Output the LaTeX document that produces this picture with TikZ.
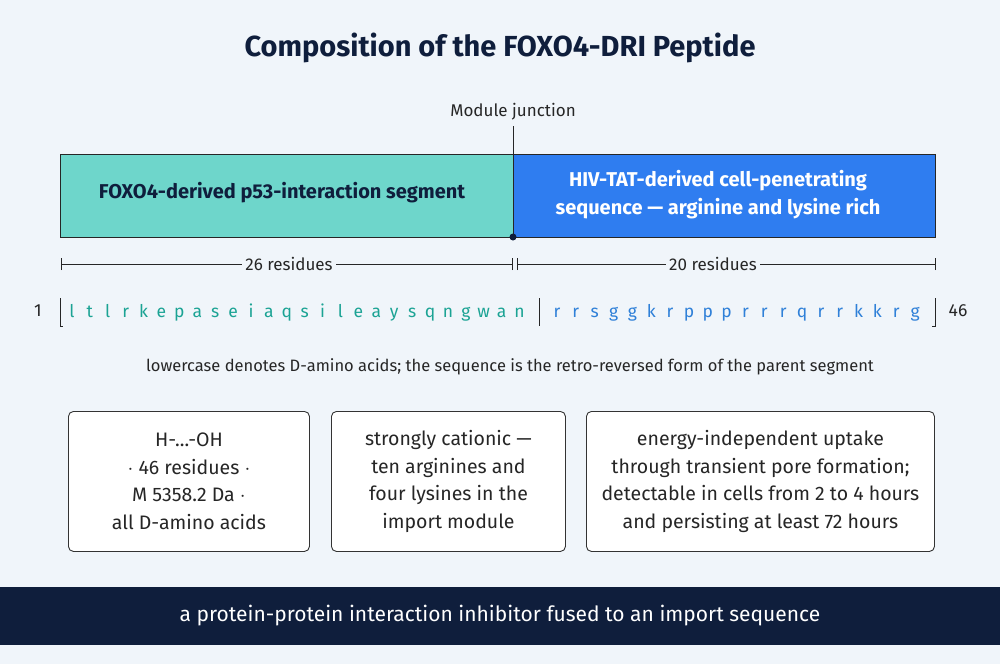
\documentclass[tikz,border=0pt]{standalone}
\usepackage{fontspec}
\setmainfont{Fira Sans}
\begin{document}
\begin{tikzpicture}[x=1pt,y=-1pt,
  txt/.style={font=\fontsize{17}{20}\selectfont, text=black!85},
  box/.style={draw=black!80, line width=0.9pt, rounded corners=5pt, fill=white},
  boxtxt/.style={font=\fontsize{19.5}{27.5}\selectfont, align=center, text=black!85},
  dim/.style={line width=0.7pt, draw=black!85},
  resA/.style={font=\fontsize{17.5}{20}\selectfont, text=tealR},
  resB/.style={font=\fontsize{17.5}{20}\selectfont, text=blueR}]
\definecolor{bg}{HTML}{F0F5FA}
\definecolor{tealF}{HTML}{6ED6CB}
\definecolor{blueF}{HTML}{2F7DF0}
\definecolor{tealR}{HTML}{1BA394}
\definecolor{blueR}{HTML}{2F80D8}
\definecolor{navy}{HTML}{0F1E3C}
\fill[bg] (0,0) rectangle (1000,664);
\useasboundingbox (0,0) rectangle (1000,664);
\node[font=\fontsize{29}{34}\selectfont\bfseries, text=navy] (title) at (500,48) {Composition of the FOXO4-DRI Peptide};
% bar
\node[draw=black!85, line width=0.9pt, fill=tealF, minimum width=453pt, minimum height=83pt, inner sep=0pt, anchor=north west] (segA) at (60,154) {};
\node[draw=black!85, line width=0.9pt, fill=blueF, minimum width=422pt, minimum height=83pt, inner sep=0pt, anchor=north west] (segB) at (513,154) {};
\node[font=\fontsize{20}{24}\selectfont\bfseries, text=navy] (la) at (282,193) {FOXO4-derived p53-interaction segment};
\node[font=\fontsize{20}{28}\selectfont\bfseries, text=white, align=center] (lb) at (718,195) {HIV-TAT-derived cell-penetrating\\sequence --- arginine and lysine rich};
\node[txt] (junc) at (513,112) {Module junction};
\coordinate (jt) at (513,126);
\coordinate (jb) at (513,237);
\draw[line width=0.9pt, black!85] (jt) -- (jb);
\fill[navy] (jb) circle (3.5pt);
% dimension lines
\node[txt] (d1) at (289,264) {26 residues};
\node[txt] (d2) at (713,264) {20 residues};
\coordinate (a1) at (61,264); \coordinate (a2) at (512,264);
\coordinate (b1) at (517,264); \coordinate (b2) at (935,264);
\draw[dim] (a1) -- (d1.west); \draw[dim] (d1.east) -- (a2);
\draw[dim] (b1) -- (d2.west); \draw[dim] (d2.east) -- (b2);
\foreach \p in {a1,a2,b1,b2} \draw[dim] ([yshift=-6pt]\p) -- ([yshift=6pt]\p);
% sequence
\node[font=\fontsize{17.5}{20}\selectfont, text=black!85] (one) at (38,311) {1};
\node[font=\fontsize{17.5}{20}\selectfont, text=black!85] (ftsix) at (958,311) {46};
\coordinate (t1) at (60,298); \coordinate (t1b) at (60,326);
\coordinate (t2) at (539,298); \coordinate (t2b) at (539,326);
\coordinate (t3) at (935,298); \coordinate (t3b) at (935,326);
\draw[line width=0.9pt, black!85] (t1) -- (t1b) -- ++(3,0);
\draw[line width=0.9pt, black!85] (t2) -- (t2b);
\draw[line width=0.9pt, black!85] (t3) -- (t3b) -- ++(-3,0);
\foreach \c [count=\i] in {l,t,l,r,k,e,p,a,s,e,i,a,q,s,i,l,e,a,y,s,q,n,g,w,a,n}
  \node[resA, anchor=base] (ra\i) at ({72+(\i-1)*17.9},317) {\c};
\foreach \c [count=\i] in {r,r,s,g,g,k,r,p,p,p,r,r,r,q,r,r,k,k,r,g}
  \node[resB, anchor=base] (rb\i) at ({557+(\i-1)*18.85},317) {\c};
\node[font=\fontsize{16.5}{19}\selectfont, text=black!85] (note) at (510,367) {lowercase denotes D-amino acids; the sequence is the retro-reversed form of the parent segment};
% boxes
\node[box, minimum width=241pt, minimum height=140pt, anchor=north west] (b1) at (68,411) {};
\node[box, minimum width=234pt, minimum height=140pt, anchor=north west] (b2) at (331,411) {};
\node[box, minimum width=348pt, minimum height=140pt, anchor=north west] (b3) at (586,411) {};
\node[boxtxt] (bt1) at (b1.center) {H-...-OH\\$\cdot$ 46 residues $\cdot$\\M 5358.2 Da $\cdot$\\all D-amino acids};
\node[boxtxt] (bt2) at (b2.center) {strongly cationic ---\\ten arginines and\\four lysines in the\\import module};
\node[boxtxt] (bt3) at (b3.center) {energy-independent uptake\\through transient pore formation;\\detectable in cells from 2 to 4 hours\\and persisting at least 72 hours};
% footer
\fill[navy] (0,587) rectangle (1000,645);
\node[font=\fontsize{21}{24}\selectfont, text=white] (foot) at (500,616) {a protein-protein interaction inhibitor fused to an import sequence};
\end{tikzpicture}
\end{document}
